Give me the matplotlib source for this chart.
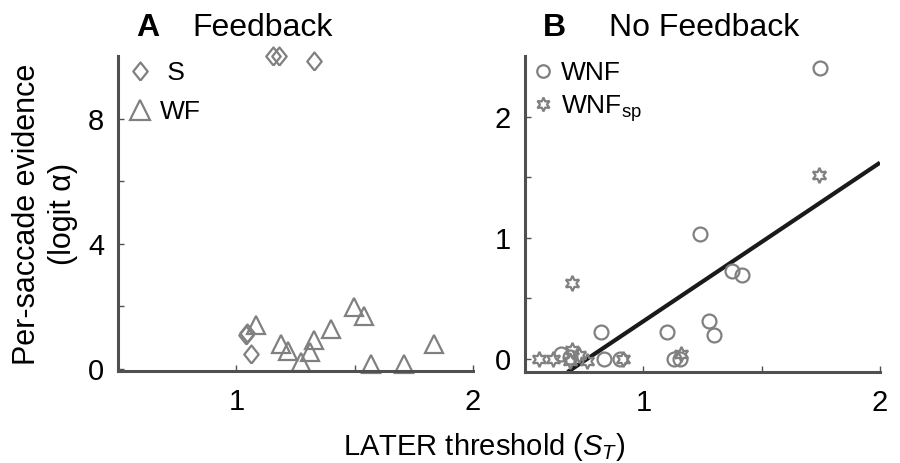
import numpy as np
import matplotlib.pyplot as plt
from matplotlib.lines import Line2D

plt.rcParams['font.family'] = ['Liberation Sans', 'DejaVu Sans']
plt.rcParams['mathtext.fontset'] = 'custom'
plt.rcParams['mathtext.it'] = 'Liberation Sans:italic'
plt.rcParams['mathtext.rm'] = 'Liberation Sans'

# Panel A: Feedback
s_x = [1.153, 1.18, 1.33, 1.04, 1.045, 1.06]
s_y = [10.0, 10.0, 9.85, 1.09, 1.15, 0.48]
wf_x = [1.083, 1.19, 1.22, 1.274, 1.33, 1.31, 1.40, 1.496, 1.54, 1.57, 1.71, 1.836]
wf_y = [1.41, 0.80, 0.59, 0.23, 0.93, 0.55, 1.28, 1.97, 1.69, 0.16, 0.16, 0.79]

# Panel B: No Feedback
wnf_x = [1.747, 1.24, 1.374, 1.416, 1.277, 1.297, 1.10, 0.82, 0.835, 0.90, 1.13, 1.156, 0.65, 0.69]
wnf_y = [2.40, 1.03, 0.73, 0.69, 0.31, 0.20, 0.22, 0.22, 0.0, 0.0, 0.0, 0.0, 0.04, 0.02]
sp_x = [1.744, 0.70, 0.56, 0.62, 0.70, 0.73, 0.76, 0.69, 0.915, 1.16]
sp_y = [1.52, 0.63, 0.0, 0.0, 0.075, 0.03, -0.02, -0.02, 0.0, 0.04]
fit_x = [0.68, 2.0]
fit_y = [-0.107, 1.62]

gray = '#808080'
spine_c = '#505050'
diamond = [(0, -1), (0.8, 0), (0, 1), (-0.8, 0), (0, -1)]

fig = plt.figure(figsize=(9, 4.63), dpi=100)
axA = fig.add_axes([118/900, 1-371/463, 355/900, 315/463])
axB = fig.add_axes([525/900, 1-372/463, 355/900, 316/463])

for ax in (axA, axB):
    for side in ('top', 'right'):
        ax.spines[side].set_visible(False)
    for side in ('left', 'bottom'):
        ax.spines[side].set_linewidth(2.2)
        ax.spines[side].set_color(spine_c)
    ax.tick_params(direction='in', length=4, width=1, color=spine_c,
                   labelsize=21, pad=10)
    ax.tick_params(axis='x', pad=12)
    ax.set_xlim(0.5, 2.0)
    ax.set_xticks([1, 1.5, 2])
    ax.set_xticklabels(['1', '', '2'])

mk = dict(linestyle='none', markerfacecolor='none', markeredgecolor=gray,
          markeredgewidth=1.6, clip_on=False)

axA.plot(s_x, s_y, marker=diamond, markersize=13, **mk)
axA.plot(wf_x, wf_y, marker='^', markersize=13, **mk)
axA.set_ylim(-0.06, 10)
axA.set_yticks([0, 2, 4, 6, 8])
axA.set_yticklabels(['0', '', '4', '', '8'])

axB.plot(fit_x, fit_y, color='#1a1a1a', linewidth=3, solid_capstyle='butt')
axB.plot(wnf_x, wnf_y, marker='o', markersize=10, **mk)
axB.plot(sp_x, sp_y, marker=(6, 1, 0), markersize=11, **mk)
axB.set_ylim(-0.107, 2.5)
axB.set_yticks([0, 0.5, 1, 1.5, 2])
axB.set_yticklabels(['0', '', '1', '', '2'])

hA = [Line2D([], [], marker=diamond, markersize=13, **mk),
      Line2D([], [], marker='^', markersize=14, **mk)]
axA.legend(hA, [' S', 'WF'], loc='upper left', bbox_to_anchor=(0.01, 1.0),
           frameon=False, fontsize=19, handlelength=1.0, handletextpad=0.25,
           borderpad=0.1, borderaxespad=0.1, labelspacing=0.55)
hB = [Line2D([], [], marker='o', markersize=9, **mk),
      Line2D([], [], marker=(6, 1, 0), markersize=10, **mk)]
axB.legend(hB, ['WNF', 'WNF$_{\\mathrm{sp}}$'], loc='upper left',
           bbox_to_anchor=(0.0, 1.0), frameon=False, fontsize=19,
           handlelength=1.0, handletextpad=0.15, borderpad=0.1,
           borderaxespad=0.1, labelspacing=0.3)

fig.text(136/900, 1-36/463, 'A', fontsize=23, fontweight='bold', va='baseline')
fig.text(192/900, 1-36/463, 'Feedback', fontsize=23, va='baseline')
fig.text(543/900, 1-36/463, 'B', fontsize=23, fontweight='bold', va='baseline')
fig.text(609/900, 1-36/463, 'No Feedback', fontsize=23, va='baseline')

fig.text(45/900, 1-214/463, 'Per-saccade evidence\n(logit \u03b1)', fontsize=22,
         rotation=90, ha='center', va='center', linespacing=1.25)
fig.text(484/900, 1-447/463, 'LATER threshold ($S_T$)', fontsize=21,
         ha='center', va='center')

fig.savefig('out.png', dpi=100)
